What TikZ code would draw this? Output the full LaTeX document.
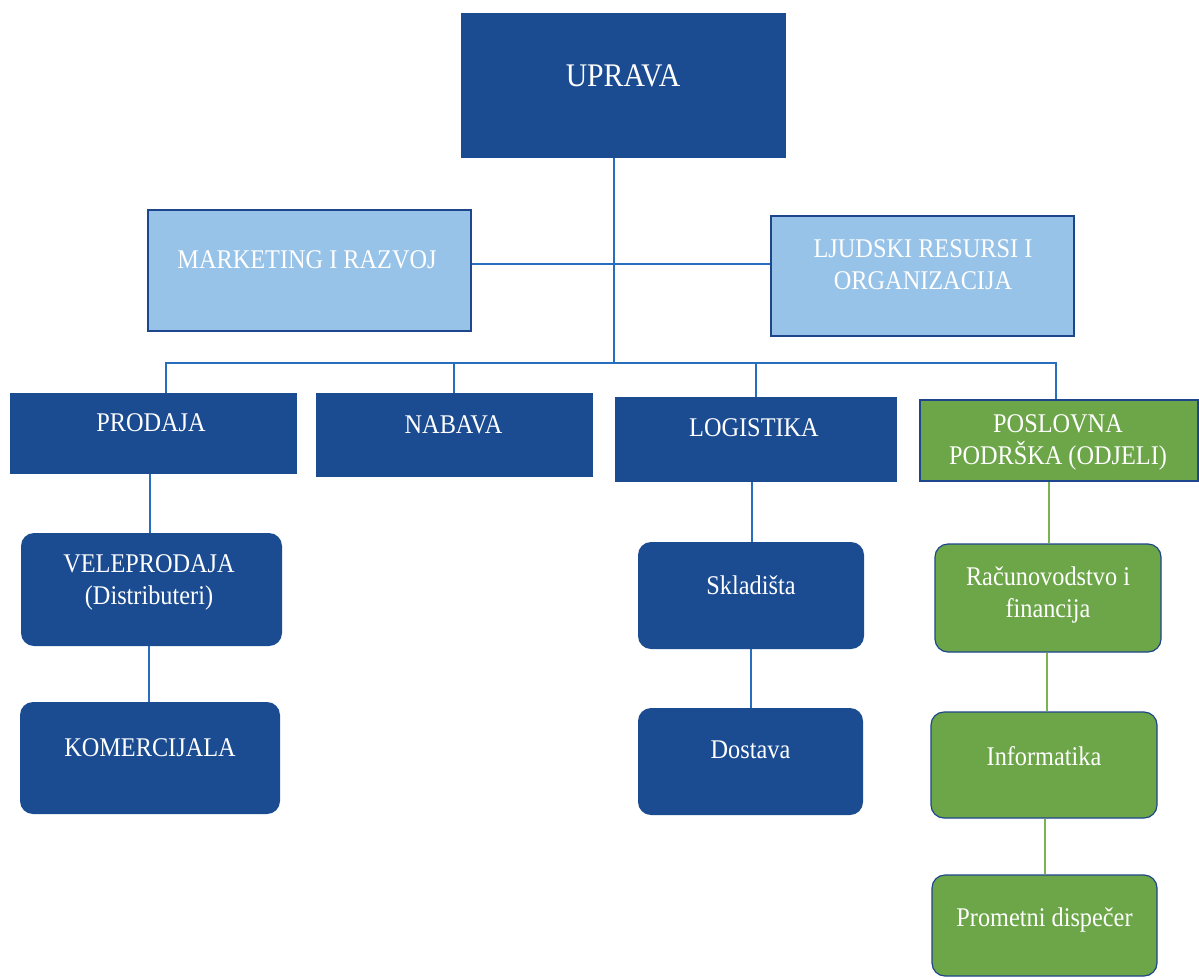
\documentclass[tikz,border=0pt]{standalone}
\usepackage{fontspec}
\newfontfamily\boxfont{Liberation Serif}[FakeStretch=0.9]
\definecolor{dblue}{RGB}{27,76,146}
\definecolor{lblue}{RGB}{152,195,232}
\definecolor{gfill}{RGB}{108,166,72}
\definecolor{cblue}{RGB}{40,110,190}
\definecolor{cgreen}{RGB}{122,180,80}
\definecolor{edge}{RGB}{30,70,140}
\begin{document}
\begin{tikzpicture}[x=1pt,y=-1pt,
  box/.style={rectangle,inner sep=0pt,anchor=center},
  darkbox/.style={box,fill=dblue},
  lightbox/.style={box,fill=lblue,draw=edge,line width=1.2pt},
  greenbox/.style={box,fill=gfill,draw=edge,line width=1.2pt},
  rdark/.style={darkbox,rounded corners=13pt},
  rgreen/.style={greenbox,rounded corners=13pt},
  lbl/.style={text=white,align=center,inner sep=0pt,font=\boxfont\fontsize{27}{32}\selectfont},
  conn/.style={draw=cblue,line width=2.6pt},
  gconn/.style={draw=cgreen,line width=2pt}]
\useasboundingbox (0,0) rectangle (1199,977);
\fill[white] (0,0) rectangle (1199,977);

% boxes
\node[darkbox,minimum width=325pt,minimum height=145pt] (up) at (623.5,85.5) {};
\node[lightbox,minimum width=323pt,minimum height=121pt] (mk) at (309.5,270.5) {};
\node[lightbox,minimum width=303pt,minimum height=120pt] (lj) at (922.5,276) {};
\node[darkbox,minimum width=287pt,minimum height=81pt] (pr) at (153.5,433.5) {};
\node[darkbox,minimum width=277pt,minimum height=84pt] (nb) at (454.5,435) {};
\node[darkbox,minimum width=282pt,minimum height=85pt] (lg) at (756,439.5) {};
\node[greenbox,minimum width=278pt,minimum height=81pt] (pp) at (1059,440.5) {};
\node[rdark,minimum width=261pt,minimum height=113pt] (vp) at (151.5,589.5) {};
\node[rdark,minimum width=260pt,minimum height=112pt] (km) at (150,758) {};
\node[rdark,minimum width=226pt,minimum height=107pt] (sk) at (751,595.5) {};
\node[rdark,minimum width=225pt,minimum height=107pt] (ds) at (750.5,761.5) {};
\node[rgreen,minimum width=226pt,minimum height=108pt] (rf) at (1048,598) {};
\node[rgreen,minimum width=226pt,minimum height=106pt] (inf) at (1044,765) {};
\node[rgreen,minimum width=225pt,minimum height=101pt] (pd) at (1044.5,925.5) {};

% labels
\node[lbl,font=\boxfont\fontsize{33}{38}\selectfont] (tup) at (623,76) {UPRAVA};
\node[lbl] (tmk) at (307,260) {MARKETING I RAZVOJ};
\node[lbl] (tlj) at (923,265) {LJUDSKI RESURSI I\\ORGANIZACIJA};
\node[lbl] (tpr) at (151,423) {PRODAJA};
\node[lbl] (tnb) at (453.5,425) {NABAVA};
\node[lbl] (tlg) at (754,428) {LOGISTIKA};
\node[lbl] (tpp) at (1058,442.5) {POSLOVNA\\PODRŠKA (ODJELI)};
\node[lbl] (tvp) at (149,582) {VELEPRODAJA\\(Distributeri)};
\node[lbl] (tkm) at (150,748) {KOMERCIJALA};
\node[lbl] (tsk) at (751,585) {Skladišta};
\node[lbl] (tds) at (750.5,750) {Dostava};
\node[lbl] (trf) at (1048,594.5) {Računovodstvo i\\financija};
\node[lbl] (tinf) at (1044,756) {Informatika};
\node[lbl] (tpd) at (1044.5,920) {Prometni dispečer};

% connector helper coordinates
\coordinate (bc) at (614,363);
\coordinate (hl) at (614,264);
\coordinate (b1) at (166,363);
\coordinate (b2) at (454,363);
\coordinate (b3) at (756,363);
\coordinate (b4) at (1056,363);
\coordinate (v1) at (150,0);
\coordinate (v2) at (149,0);
\coordinate (v3) at (752,0);
\coordinate (v4) at (751,0);
\coordinate (v5) at (1049,0);
\coordinate (v6) at (1047,0);
\coordinate (v7) at (1045,0);

% connectors
\draw[conn] (up.south -| bc) -- (bc);
\draw[conn] (mk.east |- hl) -- (lj.west |- hl);
\draw[conn] (pr.north -| b1) -- (b1) -- (b4) -- (pp.north -| b4);
\draw[conn] (b2) -- (nb.north -| b2);
\draw[conn] (b3) -- (lg.north -| b3);
\draw[conn] (pr.south -| v1) -- (vp.north -| v1);
\draw[conn] (vp.south -| v2) -- (km.north -| v2);
\draw[conn] (lg.south -| v3) -- (sk.north -| v3);
\draw[conn] (sk.south -| v4) -- (ds.north -| v4);
\draw[gconn] (pp.south -| v5) -- (rf.north -| v5);
\draw[gconn] (rf.south -| v6) -- (inf.north -| v6);
\draw[gconn] (inf.south -| v7) -- (pd.north -| v7);
\end{tikzpicture}
\end{document}
